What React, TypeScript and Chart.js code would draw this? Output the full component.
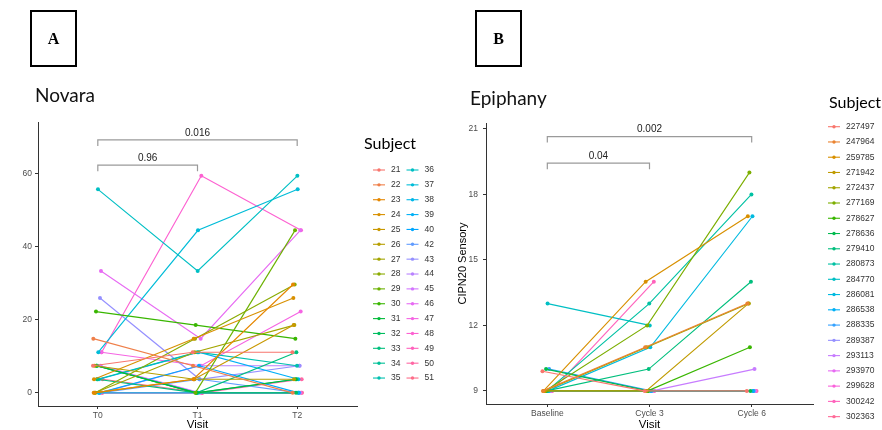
import React, { useEffect, useRef } from 'react';
import { Chart, registerables } from 'chart.js';
Chart.register(...registerables);

// ---------- Novara (panel A) ----------
const novaraVisits = ['T0', 'T1', 'T2'];
const novaraSubjects = ['21','22','23','24','25','26','27','28','29','30','31','32','33','34','35','36','37','38','39','40','42','43','44','45','46','47','48','49','50','51'];
const novaraT0 = [7.4, 14.8, 0, 3.7, 0, 7.4, 0, 0, null, 22.2, 7.4, 7.4, 3.7, 7.4, 3.7, 55.6, 11.1, 0, 3.7, 0, 0, 25.9, 0, 7.4, 33.3, 11.1, 11.1, 0, 0, 3.7];
const novaraT1 = [11.1, 7.4, 3.7, 14.8, 3.7, 3.7, 11.1, 14.8, 0, 18.5, 0, 0, 0, 0, 11.1, 33.3, 44.4, 0, 11.1, 7.4, 3.7, 3.7, 7.4, 0, 14.8, 7.4, 59.3, 0, 0, 0];
const novaraT2 = [11.1, 0, 29.6, 25.9, 18.5, 3.7, 18.5, 29.6, 44.4, 14.8, 3.7, 0, 11.1, 3.7, 7.4, 59.3, 55.6, 0, 3.7, 0, 0, 7.4, 7.4, 0, 44.4, 22.2, 44.4, 0, 3.7, 0];
const novaraYTicks = [0, 20, 40, 60];
const novaraBrackets = [
  { from: 0, to: 1, y: 62.2, label: '0.96' },
  { from: 0, to: 2, y: 69.1, label: '0.016' },
];

// ---------- Epiphany (panel B) ----------
const epiphanyVisits = ['Baseline', 'Cycle 3', 'Cycle 6'];
const epiphanySubjects = ['227497','247964','259785','271942','272437','277169','278627','278636','279410','280873','284770','286081','286538','288335','289387','293113','293970','299628','300242','302363'];
const epiphanyBaseline = [9.9, 9, 9, 9, 9, 9, 9, 10, 9, 9, 13, 9, 9, 10, 9, 9, 9, 9, 9, 9];
const epiphanyCycle3 = [9, 11, 14, 9, 11, 12, 9, 9, 10, 13, 12, 11, 9, 9, 9, 9, 9, 9, 14, 9];
const epiphanyCycle6 = [9, 13, 17, 13, 13, 19, 11, 9, 14, 18, null, 17, 9, 9, 9, 10, 9, 9, null, 9];
const epiphanyYTicks = [9, 12, 15, 18, 21];
const epiphanyBrackets = [
  { from: 0, to: 1, y: 19.43, label: '0.04' },
  { from: 0, to: 2, y: 20.65, label: '0.002' },
];

const SANS = '"Liberation Sans", Arial, sans-serif';

// ggplot2 default hue palette (HCL, c=100, l=65)
function hcl(h: number, c = 100, l = 65): string {
  const hr = (h * Math.PI) / 180;
  const U = c * Math.cos(hr), V = c * Math.sin(hr);
  const Xn = 95.047, Yn = 100, Zn = 108.883;
  const Y = Yn * Math.pow((l + 16) / 116, 3);
  const den = Xn + 15 * Yn + 3 * Zn;
  const un = (4 * Xn) / den, vn = (9 * Yn) / den;
  const u = U / (13 * l) + un, v = V / (13 * l) + vn;
  const X = (Y * 9 * u) / (4 * v);
  const Z = (Y * (12 - 3 * u - 20 * v)) / (4 * v);
  const x = X / 100, y = Y / 100, z = Z / 100;
  const lin = [
    3.240479 * x - 1.53715 * y - 0.498535 * z,
    -0.969256 * x + 1.875992 * y + 0.041556 * z,
    0.055648 * x - 0.204043 * y + 1.057311 * z,
  ];
  const g = lin.map((t) => {
    const s = t <= 0.0031308 ? 12.92 * t : 1.055 * Math.pow(t, 1 / 2.4) - 0.055;
    return Math.round(Math.max(0, Math.min(1, s)) * 255);
  });
  return `rgb(${g[0]},${g[1]},${g[2]})`;
}
function huePal(n: number): string[] {
  return Array.from({ length: n }, (_, i) => hcl(15 + (360 * i) / n));
}

function buildDatasets(subjects: string[], series: (number | null)[][]) {
  const n = subjects.length;
  const cols = huePal(n);
  const dodgeW = 0.1;
  return subjects.map((s, i) => {
    const off = (i - (n - 1) / 2) * (dodgeW / n);
    return {
      label: s,
      data: series.map((arr, v) => ({ x: v + off, y: arr[i] })),
      borderColor: cols[i],
      backgroundColor: cols[i],
      pointBackgroundColor: cols[i],
      pointBorderColor: cols[i],
      spanGaps: false,
    };
  });
}

const legendPlugin = {
  id: 'subjLegend',
  afterDraw(chart: any, _args: any, o: any) {
    const ctx = chart.ctx;
    ctx.save();
    ctx.fillStyle = '#000';
    ctx.textBaseline = 'middle';
    ctx.textAlign = 'left';
    ctx.font = '16px Lato, "Open Sans", sans-serif';
    ctx.fillText('Subject', o.x, o.titleY);
    ctx.font = `8.5px ${SANS}`;
    chart.data.datasets.forEach((ds: any, i: number) => {
      const col = Math.floor(i / o.perCol);
      const row = i % o.perCol;
      const mx = o.markerX + col * o.colW;
      const my = o.y0 + row * o.rowH;
      ctx.strokeStyle = ds.borderColor;
      ctx.lineWidth = 1.1;
      ctx.beginPath();
      ctx.moveTo(mx - 6, my);
      ctx.lineTo(mx + 6, my);
      ctx.stroke();
      ctx.fillStyle = ds.borderColor;
      ctx.beginPath();
      ctx.arc(mx, my, 1.7, 0, Math.PI * 2);
      ctx.fill();
      ctx.fillStyle = '#333';
      ctx.fillText(ds.label, mx + o.textGap, my);
    });
    ctx.restore();
  },
};

const bracketPlugin = {
  id: 'brackets',
  afterDatasetsDraw(chart: any, _args: any, o: any) {
    const ctx = chart.ctx;
    const xs = chart.scales.x, ys = chart.scales.y;
    ctx.save();
    (o.items || []).forEach((b: any) => {
      const x1 = xs.getPixelForValue(b.from);
      const x2 = xs.getPixelForValue(b.to);
      const y = ys.getPixelForValue(b.y);
      ctx.strokeStyle = '#9a9a9a';
      ctx.lineWidth = 1.2;
      ctx.beginPath();
      ctx.moveTo(x1, y + 6);
      ctx.lineTo(x1, y);
      ctx.lineTo(x2, y);
      ctx.lineTo(x2, y + 6);
      ctx.stroke();
      ctx.fillStyle = '#222';
      ctx.font = `10px ${SANS}`;
      ctx.textAlign = 'center';
      ctx.textBaseline = 'bottom';
      ctx.fillText(b.label, (x1 + x2) / 2, y - 2);
    });
    ctx.restore();
  },
};

function makeConfig(p: any) {
  const axisCommon = {
    grid: { display: true, drawOnChartArea: false, drawTicks: true, tickLength: 3, color: '#333' },
    border: { display: true, color: '#333', width: 1 },
  };
  return {
    type: 'line',
    data: { datasets: buildDatasets(p.subjects, p.series) },
    options: {
      responsive: false,
      animation: false,
      layout: { padding: { left: p.padLeft, top: p.padTop, right: p.padRight, bottom: 0 } },
      elements: {
        line: { borderWidth: 1.15, tension: 0 },
        point: { radius: 2, borderWidth: 0, hoverRadius: 2 },
      },
      plugins: {
        legend: { display: false },
        tooltip: { enabled: false },
        subjLegend: p.legend,
        brackets: { items: p.brackets },
      },
      scales: {
        x: {
          type: 'linear',
          min: -0.6,
          max: 2.6,
          ...axisCommon,
          afterBuildTicks: (s: any) => {
            s.ticks = p.visits.map((_: string, i: number) => ({ value: i }));
          },
          afterFit: (s: any) => {
            s.height = p.xHeight;
          },
          ticks: {
            autoSkip: false,
            maxRotation: 0,
            padding: 2,
            color: '#4d4d4d',
            font: { family: SANS, size: 8.5 },
            callback: (v: number) => p.visits[Math.round(v)],
          },
          title: { display: true, text: 'Visit', color: '#000', font: { family: SANS, size: 11.5 }, padding: { top: 0, bottom: -2 } },
        },
        y: {
          type: 'linear',
          min: p.yMin,
          max: p.yMax,
          ...axisCommon,
          afterBuildTicks: (s: any) => {
            s.ticks = p.yTicks.map((v: number) => ({ value: v }));
          },
          afterFit: (s: any) => {
            s.width = p.yWidth;
          },
          ticks: {
            padding: p.yTickPad,
            color: '#4d4d4d',
            font: { family: SANS, size: 8.5 },
          },
          title: p.yTitle
            ? { display: true, text: p.yTitle, color: '#000', font: { family: SANS, size: 11 }, padding: { top: p.yTitlePad, bottom: 0 } }
            : { display: false },
        },
      },
    },
    plugins: [legendPlugin, bracketPlugin],
  };
}

function Panel(props: { cfg: any; left: number }) {
  const ref = useRef<HTMLCanvasElement | null>(null);
  useEffect(() => {
    if (!ref.current) return;
    const chart = new Chart(ref.current, props.cfg);
    return () => chart.destroy();
  }, []);
  return (
    <canvas
      ref={ref}
      width={441}
      height={430}
      style={{ position: 'absolute', left: props.left, top: 0, width: 441, height: 430, display: 'block' }}
    />
  );
}

const boxStyle = (left: number): React.CSSProperties => ({
  position: 'absolute',
  left,
  top: 10,
  width: 43,
  height: 53,
  border: '2px solid #000',
  display: 'flex',
  alignItems: 'center',
  justifyContent: 'center',
  fontFamily: '"Liberation Serif", "Times New Roman", serif',
  fontWeight: 'bold',
  fontSize: 16,
  color: '#000',
});

const titleStyle = (left: number, top: number): React.CSSProperties => ({
  position: 'absolute',
  left,
  top,
  fontFamily: 'Lato, "Open Sans", sans-serif',
  fontSize: 19,
  lineHeight: '20px',
  color: '#111',
});

export default function App() {
  const cfgA = makeConfig({
    subjects: novaraSubjects,
    series: [novaraT0, novaraT1, novaraT2],
    visits: novaraVisits,
    yTicks: novaraYTicks,
    brackets: novaraBrackets,
    yMin: -3.6,
    yMax: 74,
    padLeft: 0,
    padTop: 122,
    padRight: 84,
    yWidth: 38,
    yTickPad: 3,
    xHeight: 24,
    yTitle: null,
    legend: { x: 364, titleY: 144, y0: 170, rowH: 14.86, perCol: 15, markerX: 379, colW: 33.5, textGap: 12 },
  });
  const cfgB = makeConfig({
    subjects: epiphanySubjects,
    series: [epiphanyBaseline, epiphanyCycle3, epiphanyCycle6],
    visits: epiphanyVisits,
    yTicks: epiphanyYTicks,
    brackets: epiphanyBrackets,
    yMin: 8.4,
    yMax: 21.27,
    padLeft: 10,
    padTop: 123,
    padRight: 69,
    yWidth: 35,
    yTickPad: 5,
    xHeight: 26,
    yTitle: 'CIPN20 Sensory',
    yTitlePad: 5,
    legend: { x: 388, titleY: 103, y0: 126.7, rowH: 15.26, perCol: 20, markerX: 393, colW: 0, textGap: 12 },
  });
  return (
    <div style={{ position: 'fixed', left: 0, top: 0, width: 882, height: 430, background: '#fff', overflow: 'hidden' }}>
      <Panel cfg={cfgA} left={0} />
      <Panel cfg={cfgB} left={441} />
      <div style={boxStyle(30)}>A</div>
      <div style={boxStyle(475)}>B</div>
      <div style={titleStyle(35, 85)}>Novara</div>
      <div style={titleStyle(470, 88)}>Epiphany</div>
    </div>
  );
}
